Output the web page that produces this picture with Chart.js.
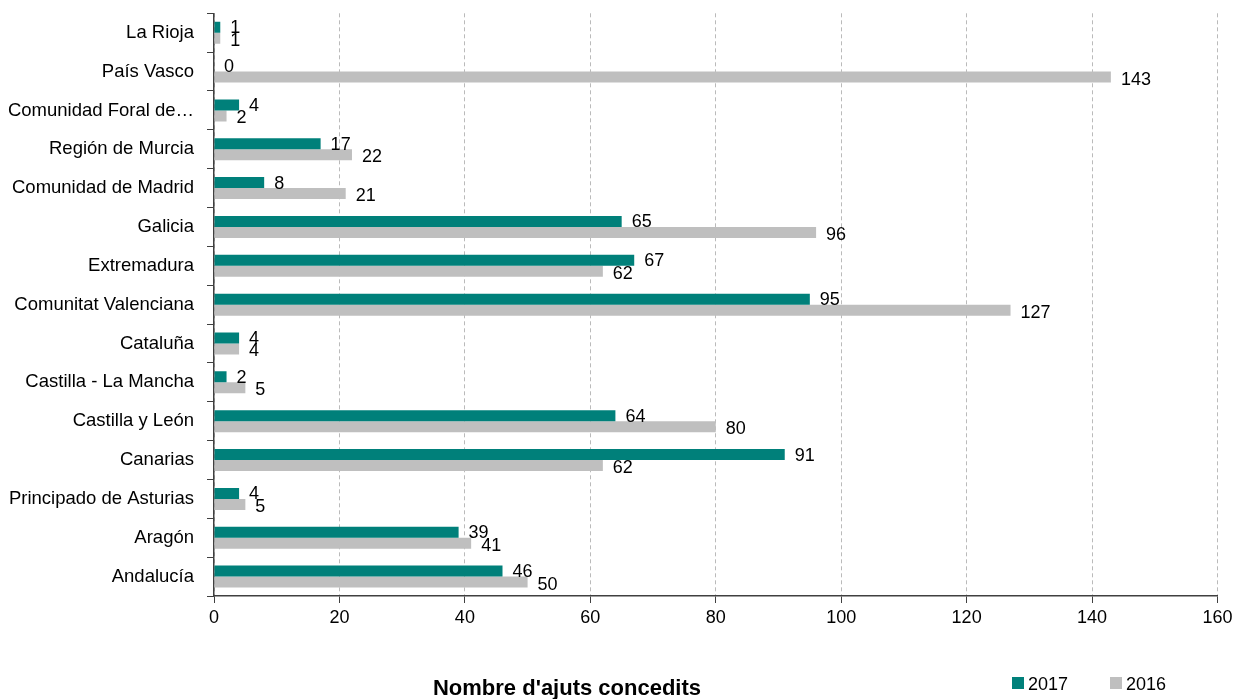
<!DOCTYPE html>
<html>
<head>
<meta charset="utf-8">
<script src="https://cdn.jsdelivr.net/npm/chart.js@4/dist/chart.umd.min.js"></script>
<style>
  html, body { margin: 0; padding: 0; background: #fff; }
  #wrap { width: 1237px; height: 699px; position: relative; }
</style>
</head>
<body>
<div id="wrap"><canvas id="c" width="1237" height="699"></canvas></div>
<script>
const categories = [
  "La Rioja", "País Vasco", "Comunidad Foral de…", "Región de Murcia",
  "Comunidad de Madrid", "Galicia", "Extremadura", "Comunitat Valenciana",
  "Cataluña", "Castilla - La Mancha", "Castilla y León", "Canarias",
  "Principado de Asturias", "Aragón", "Andalucía"
];
const values2017 = [1, 0, 4, 17, 8, 65, 67, 95, 4, 2, 64, 91, 4, 39, 46];
const values2016 = [1, 143, 2, 22, 21, 96, 62, 127, 4, 5, 80, 62, 5, 41, 50];
const seriesNames = ["2017", "2016"];
const xTicks = [0, 20, 40, 60, 80, 100, 120, 140, 160];
const axisTitle = "Nombre d'ajuts concedits";

const FONT = "'Liberation Sans', Arial, sans-serif";
const TEAL = "#00807a";
const GRAY = "#bfbfbf";
const AXIS = "#404040";

const labelPlugin = {
  id: 'valueLabels',
  afterDatasetsDraw(chart) {
    const ctx = chart.ctx;
    ctx.save();
    ctx.font = "18px " + FONT;
    ctx.fillStyle = "#000";
    ctx.textAlign = "left";
    ctx.textBaseline = "middle";
    chart.data.datasets.forEach((ds, di) => {
      const meta = chart.getDatasetMeta(di);
      meta.data.forEach((el, i) => {
        const dy = di === 0 ? 1 : 2.5;
        ctx.fillText(String(ds.data[i]), el.x + 10, el.y + dy);
      });
    });
    ctx.restore();
  }
};

const extrasPlugin = {
  id: 'extras',
  afterDraw(chart) {
    const ctx = chart.ctx;
    ctx.save();
    ctx.fillStyle = "#000";
    ctx.font = "bold 22px " + FONT;
    ctx.textAlign = "center";
    ctx.textBaseline = "alphabetic";
    ctx.fillText(axisTitle, 567, 695);
    const items = [
      { name: seriesNames[0], color: TEAL, x: 1012 },
      { name: seriesNames[1], color: GRAY, x: 1110 }
    ];
    ctx.font = "18px " + FONT;
    ctx.textAlign = "left";
    items.forEach(it => {
      ctx.fillStyle = it.color;
      ctx.fillRect(it.x, 677, 12, 12);
      ctx.fillStyle = "#000";
      ctx.fillText(it.name, it.x + 16, 690);
    });
    ctx.restore();
  }
};

new Chart(document.getElementById('c'), {
  type: 'bar',
  data: {
    labels: categories,
    datasets: [
      { label: seriesNames[0], data: values2017, backgroundColor: TEAL,
        categoryPercentage: 0.566, barPercentage: 1.0 },
      { label: seriesNames[1], data: values2016, backgroundColor: GRAY,
        categoryPercentage: 0.566, barPercentage: 1.0 }
    ]
  },
  options: {
    indexAxis: 'y',
    responsive: false,
    animation: false,
    devicePixelRatio: 1,
    layout: { padding: { top: 13.3, right: 19.5, bottom: 0, left: 0 } },
    plugins: {
      legend: { display: false },
      title: { display: false },
      tooltip: { enabled: false }
    },
    scales: {
      x: {
        min: 0, max: 160,
        afterBuildTicks(scale) { scale.ticks = xTicks.map(v => ({ value: v })); },
        afterFit(scale) { scale.height = 103; scale.paddingLeft = 0; scale.paddingRight = 0; },
        grid: {
          color: "#bababa",
          lineWidth: 1,
          drawTicks: true,
          tickLength: 7,
          tickColor: AXIS,
          tickBorderDash: []
        },
        border: { display: true, color: AXIS, width: 1.5, dash: [4, 3] },
        ticks: { color: "#000", font: { family: FONT, size: 18 }, padding: 4 }
      },
      y: {
        afterFit(scale) { scale.width = 214; scale.paddingTop = 0; scale.paddingBottom = 0; },
        grid: {
          drawOnChartArea: false,
          drawTicks: true,
          tickLength: 7,
          tickColor: AXIS,
          offset: true
        },
        border: { display: true, color: AXIS, width: 1.5 },
        ticks: { color: "#000", font: { family: FONT, size: 18.5 }, padding: 13, autoSkip: false }
      }
    }
  },
  plugins: [labelPlugin, extrasPlugin]
});
</script>
</body>
</html>
